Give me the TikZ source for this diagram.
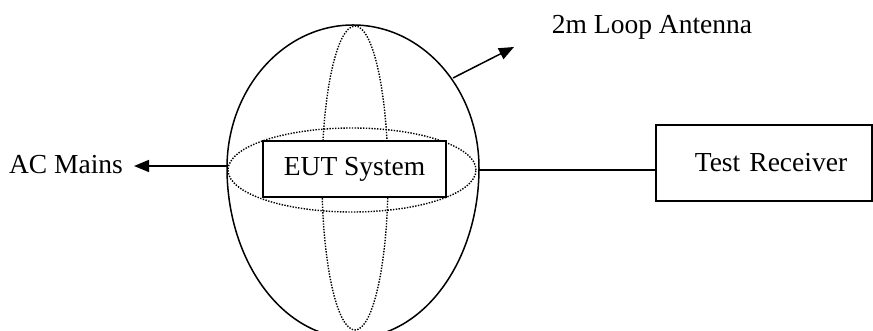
\documentclass[tikz,border=0pt]{standalone}
\usepackage{fontspec}
\setmainfont{Liberation Serif}
\usetikzlibrary{arrows.meta}
\begin{document}
\begin{tikzpicture}[x=1pt,y=1pt,
  lbl/.style={font=\fontsize{27.5}{29}\selectfont, inner sep=0pt},
  boxn/.style={draw, line width=1.2pt, inner sep=0pt, font=\fontsize{27.5}{29}\selectfont},
  outer/.style={line width=1.5pt},
  dots/.style={dash pattern=on 1.4pt off 1.4pt, line width=1.4pt},
  conn/.style={line width=1.5pt},
  arr/.style={conn, -{Triangle[length=15pt,width=12pt]}}]
\useasboundingbox (0,0) rectangle (873,331);
\fill[white] (0,0) rectangle (873,331);
% outer loop (egg shape)
\draw[outer] (227,163) arc[start angle=180,end angle=0,x radius=126,y radius=143]
  arc[start angle=0,end angle=-180,x radius=126,y radius=170];
% dotted ellipses
\draw[dots] (355,153) ellipse[x radius=33,y radius=152];
\draw[dots] (352,161) ellipse[x radius=124,y radius=42];
% nodes
\node[boxn, fill=white, minimum width=183pt, minimum height=56pt] (eut) at (354.5,162) {EUT System};
\node[boxn, minimum width=216pt, minimum height=76pt, text width=216pt, align=center] (rx) at (764,168) {\hspace*{14pt}Test Receiver};
\node[lbl] (ac) at (66,166) {AC Mains};
\node[lbl] (ant) at (652,304) {2m Loop Antenna};
% connector points on the loop
\coordinate (loopL) at (228,165);
\coordinate (acTip) at (134,165);
\coordinate (loopR) at (478,161);
\coordinate (loopA) at (453,253);
\coordinate (antTip) at (514,284);
\draw[arr] (loopL) -- (acTip);
\draw[conn] (loopR) -- (rx.west |- loopR);
\draw[arr] (loopA) -- (antTip);
\end{tikzpicture}
\end{document}
